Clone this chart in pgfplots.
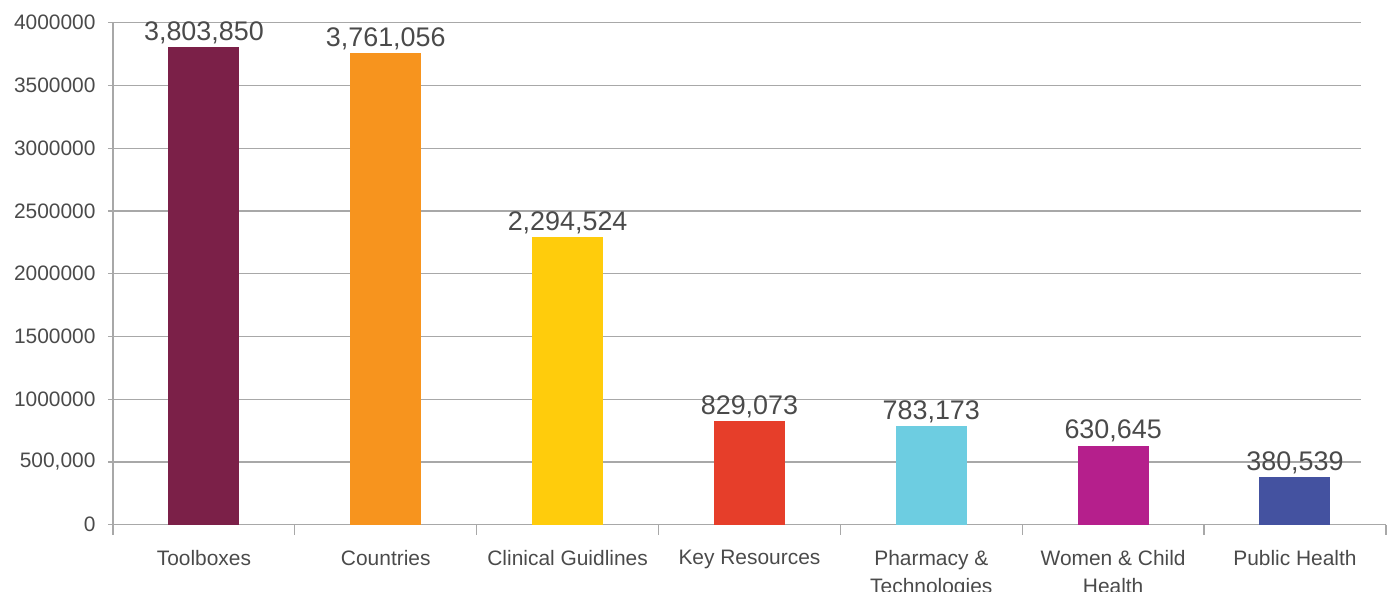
\documentclass[border=0pt]{standalone}
\usepackage{pgfplots}
\pgfplotsset{compat=1.18}
\usepackage{fontspec}
\setmainfont{Liberation Sans}

\definecolor{txt}{HTML}{4A4A4A}
\definecolor{gridgray}{HTML}{A8A8A8}
\definecolor{cTool}{HTML}{7B2048}
\definecolor{cCountry}{HTML}{F7941E}
\definecolor{cClin}{HTML}{FFCC0C}
\definecolor{cKey}{HTML}{E63E2A}
\definecolor{cPharm}{HTML}{6DCDE1}
\definecolor{cWomen}{HTML}{B51F8C}
\definecolor{cPublic}{HTML}{4452A0}

\begin{document}
\begin{tikzpicture}
  \begin{axis}[
    scale only axis,
    width=1273bp, height=502bp,
    at={(0,0)}, anchor=south west,
    xmin=-0.5, xmax=6.5,
    ymin=0, ymax=4000000,
    axis x line=bottom, axis y line=left,
    axis line style={draw=gridgray, line width=1.3bp, -},
    tick align=outside,
    major tick length=5bp,
    minor tick length=10bp,
    tick style={draw=gridgray, line width=1.3bp},
    major x tick style={draw=none},
    xtick={0,1,2,3,4,5,6},
    minor xtick={-0.5,0.5,1.5,2.5,3.5,4.5,5.5,6.5},
    % every label has two lines so that all first lines sit at the same height
    xticklabels={{Toolboxes\\~}, {Countries\\~}, {Clinical Guidlines\\~}, {Key Resources\\~},
      {Pharmacy \&\\Technologies}, {Women \& Child\\Health}, {Public Health\\~}},
    x tick label style={font=\fontsize{21}{28}\selectfont, text=txt, align=center,
      anchor=north, inner sep=0pt, yshift=-20.7bp, execute at begin node=\strut},
    ytick={0,500000,1000000,1500000,2000000,2500000,3000000,3500000,4000000},
    yticklabels={0,{500,000},1000000,1500000,2000000,2500000,3000000,3500000,4000000},
    y tick label style={font=\fontsize{21}{24}\selectfont, text=txt, xshift=-9bp},
    scaled y ticks=false,
    nodes near coords={\pgfmathprintnumber[fixed, precision=0, 1000 sep={,}, assume math mode=true]{\pgfplotspointmeta}},
    every node near coord/.append style={font=\fontsize{27}{30}\selectfont, text=txt, anchor=south, inner sep=3bp},
    clip=false,
  ]
    % horizontal grid, stopping short of the right end like the original
    \pgfplotsinvokeforeach{500000,1000000,1500000,2000000,2500000,3000000,3500000,4000000}{
      \draw[gridgray, line width=1.3bp] (axis cs:-0.5,#1) -- (axis cs:6.363,#1);
    }

    \addplot[ybar, bar width=71bp, bar shift=0pt, fill=cTool, draw=none] coordinates {(0,3803850)};
    \addplot[ybar, bar width=71bp, bar shift=0pt, fill=cCountry, draw=none] coordinates {(1,3761056)};
    \addplot[ybar, bar width=71bp, bar shift=0pt, fill=cClin, draw=none] coordinates {(2,2294524)};
    \addplot[ybar, bar width=71bp, bar shift=0pt, fill=cKey, draw=none] coordinates {(3,829073)};
    \addplot[ybar, bar width=71bp, bar shift=0pt, fill=cPharm, draw=none] coordinates {(4,783173)};
    \addplot[ybar, bar width=71bp, bar shift=0pt, fill=cWomen, draw=none] coordinates {(5,630645)};
    \addplot[ybar, bar width=71bp, bar shift=0pt, fill=cPublic, draw=none] coordinates {(6,380539)};
  \end{axis}
  \pgfresetboundingbox
  \useasboundingbox (-113bp,-67.3bp) rectangle (1282bp,524.7bp);
\end{tikzpicture}
\end{document}
